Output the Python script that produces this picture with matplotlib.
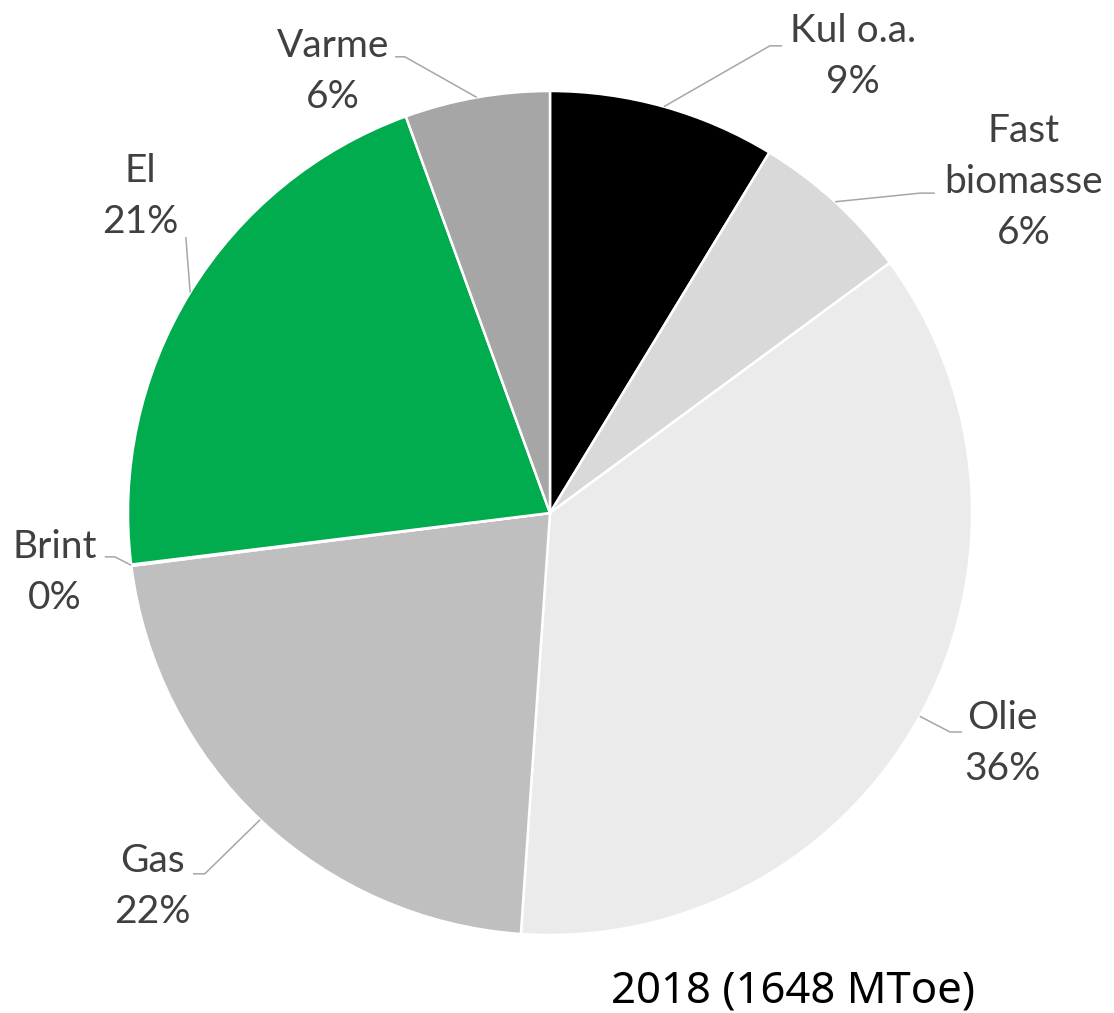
import matplotlib.pyplot as plt
import numpy as np

# energy mix 2018, shares in percent (clockwise from 12 o'clock)
labels = ['Kul o.a.', 'Fast\nbiomasse', 'Olie', 'Gas', 'Brint', 'El', 'Varme']
values = [8.7, 6.2, 36.2, 21.9, 0.05, 21.4, 5.55]
colors = ['#000000', '#d9d9d9', '#ebebeb', '#bfbfbf', '#7f7f7f', '#00ac4e', '#a6a6a6']
title = '2018 (1648 MToe)'

# label centres, leader elbow and tail end (pie radius = 1)
label_pos = [(0.718, 1.081), (1.123, 0.784), (1.073, -0.547), (-0.943, -0.884),
             (-1.173, -0.140), (-0.972, 0.749), (-0.514, 1.047)]
elbows = [(0.521, 1.107), (0.877, 0.758), (0.948, -0.519), (-0.818, -0.855),
          (-1.031, -0.104), (-0.863, 0.654), (-0.344, 1.081)]
tails = [(0.550, 1.107), (0.912, 0.758), (0.976, -0.519), (-0.846, -0.855),
         (-1.055, -0.104), (-0.863, 0.654), (-0.367, 1.081)]

fig = plt.figure(figsize=(11.14, 10.13), dpi=100)
ax = fig.add_axes([0, 0, 1, 1])

wedges, _ = ax.pie(values, colors=colors, startangle=90, counterclock=False,
                   wedgeprops=dict(edgecolor='white', linewidth=1.8))

total = sum(values)
for w, lab, v, lp, el, tl in zip(wedges, labels, values, label_pos, elbows, tails):
    mid = np.deg2rad((w.theta1 + w.theta2) / 2)
    x0, y0 = np.cos(mid), np.sin(mid)
    ax.plot([x0, el[0], tl[0]], [y0, el[1], tl[1]], color='#a6a6a6', lw=1.1,
            solid_capstyle='butt')
    ax.text(lp[0], lp[1], f'{lab}\n{v / total * 100:.0f}%', ha='center', va='center',
            fontsize=28, family='Lato', color='#404040', linespacing=1.52)

ax.text(0.576, -1.135, title, ha='center', va='center', fontsize=31.5,
        family='Noto Sans', color='black')

ax.set_aspect('auto')
ax.set_xlim(-550 / 422, (1114 - 550) / 422)
ax.set_ylim(-(1013 - 513) / 422, 513 / 422)
ax.axis('off')

fig.savefig('out.png', dpi=100, facecolor='white')
